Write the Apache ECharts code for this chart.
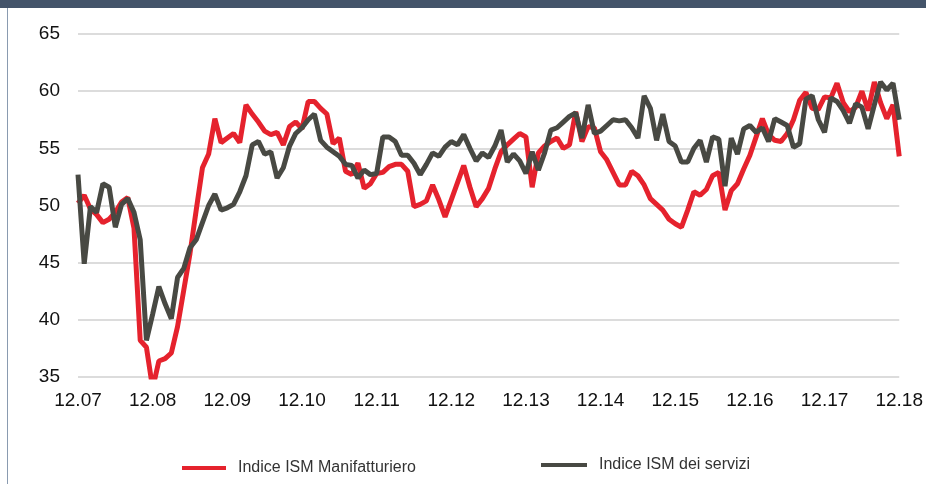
<!DOCTYPE html>
<html>
<head>
<meta charset="utf-8">
<script src="https://cdn.jsdelivr.net/npm/echarts@6/dist/echarts.min.js"></script>
<style>
  html, body { margin: 0; padding: 0; background: #fff; }
  #grafico { width: 926px; height: 484px; }
</style>
</head>
<body>
<div id="grafico"></div>
<script>
// mesi da 12.07 a 12.18 (etichette "MM.AA")
var mesi = [];
for (var k = 0; k <= 132; k++) {
	var m = (11 + k) % 12 + 1;
	var a = 2007 + Math.floor((11 + k) / 12);
	mesi.push((m < 10 ? '0' + m : '' + m) + '.' + String(a).slice(2));
}
var yTicks = [35, 40, 45, 50, 55, 60, 65];

// Indice ISM Manifatturiero
var manifatturiero = [
	50.2, 50.9, 49.7, 49.2, 48.5, 48.8, 49.4, 50.3, 50.7, 48.0, 38.2, 37.6, 34.0,
	36.4, 36.6, 37.1, 39.4, 42.6, 45.8, 49.6, 53.3, 54.5, 57.6, 55.5, 55.9,
	56.3, 55.5, 58.8, 58.0, 57.3, 56.5, 56.2, 56.4, 55.3, 56.9, 57.3, 56.7,
	59.1, 59.1, 58.5, 58.0, 55.4, 55.9, 53.0, 52.7, 53.7, 51.5, 51.9, 52.8,
	52.9, 53.4, 53.6, 53.6, 53.0, 49.9, 50.1, 50.4, 51.8, 50.5, 49.0, 50.5,
	52.0, 53.5, 51.6, 49.9, 50.6, 51.5, 53.2, 54.7, 55.3, 55.8, 56.3, 56.0,
	51.6, 54.6, 55.2, 55.6, 55.9, 55.0, 55.3, 58.2, 55.6, 56.9, 56.8, 54.7,
	54.0, 52.9, 51.8, 51.8, 53.0, 52.6, 51.8, 50.6, 50.1, 49.6, 48.8, 48.4,
	48.1, 49.6, 51.2, 50.9, 51.4, 52.6, 52.9, 49.6, 51.3, 51.9, 53.2, 54.4,
	56.0, 57.6, 56.2, 55.7, 55.6, 56.3, 57.5, 59.2, 59.9, 58.5, 58.4, 59.5,
	59.4, 60.7, 59.0, 58.2, 58.6, 60.0, 58.3, 60.8, 59.0, 57.6, 58.8, 54.3
];
// Indice ISM dei servizi
var servizi = [
	52.7, 44.9, 49.9, 49.4, 51.9, 51.6, 48.1, 50.1, 50.6, 49.4, 47.0, 38.2, 40.5,
	42.9, 41.4, 40.1, 43.7, 44.5, 46.3, 47.0, 48.5, 50.0, 51.0, 49.6, 49.8,
	50.1, 51.2, 52.6, 55.3, 55.6, 54.5, 54.7, 52.4, 53.3, 55.2, 56.3, 56.8,
	57.5, 58.0, 55.7, 55.1, 54.7, 54.3, 53.6, 53.5, 52.4, 53.1, 52.7, 52.8,
	56.0, 56.0, 55.6, 54.4, 54.4, 53.7, 52.7, 53.6, 54.6, 54.3, 55.1, 55.6,
	55.3, 56.2, 55.0, 53.9, 54.6, 54.2, 55.2, 56.6, 53.8, 54.5, 53.9, 52.8,
	54.7, 53.1, 54.6, 56.6, 56.8, 57.3, 57.8, 58.1, 55.9, 58.8, 56.3, 56.5,
	57.0, 57.5, 57.4, 57.5, 56.8, 55.9, 59.6, 58.5, 55.7, 58.0, 55.6, 55.2,
	53.8, 53.8, 55.0, 55.7, 53.8, 56.0, 55.8, 51.7, 55.9, 54.5, 56.7, 57.0,
	56.4, 56.8, 55.6, 57.6, 57.3, 57.0, 55.1, 55.4, 59.3, 59.6, 57.5, 56.4,
	59.4, 59.1, 58.3, 57.2, 58.9, 58.6, 56.7, 58.8, 60.8, 60.1, 60.7, 57.5
];

var rosso = '#e5222d';
var grigio = '#484943';
var font = "'Liberation Sans', Arial, sans-serif";

var myChart = echarts.init(document.getElementById('grafico'));
var option = {
	backgroundColor: '#fff',
	animation: false,
	textStyle: { fontFamily: font },
	graphic: [
		{ type: 'rect', left: 0, top: 0, shape: { width: 926, height: 8 }, style: { fill: '#44546a' } },
		{ type: 'line', shape: { x1: 7.5, y1: 8, x2: 7.5, y2: 484 }, style: { stroke: '#8a9bb0', lineWidth: 1 } }
	],
	grid: {
		left: 78,
		right: 23,
		top: 34,
		bottom: 107
	},
	legend: [
		{
			data: ['Indice ISM Manifatturiero'],
			left: 177, top: 455,
			icon: 'rect', itemWidth: 44, itemHeight: 4,
			textStyle: { fontSize: 16, color: '#333', padding: [0, 0, 0, 7], fontFamily: font }
		},
		{
			data: ['Indice ISM dei servizi'],
			left: 536, top: 452,
			icon: 'rect', itemWidth: 46, itemHeight: 4,
			textStyle: { fontSize: 16, color: '#333', padding: [0, 0, 0, 7], fontFamily: font }
		}
	],
	xAxis: {
		type: 'category',
		boundaryGap: false,
		data: mesi,
		axisLine: { show: false },
		axisTick: { show: false },
		axisLabel: {
			interval: 11,
			showMinLabel: true,
			showMaxLabel: true,
			margin: 14,
			fontSize: 19,
			color: '#111',
			fontFamily: font
		},
		splitLine: { show: false }
	},
	yAxis: {
		type: 'value',
		min: yTicks[0],
		max: yTicks[yTicks.length - 1],
		interval: 5,
		axisLine: { show: false },
		axisTick: { show: false },
		axisLabel: { margin: 18, fontSize: 19, color: '#111', fontFamily: font },
		splitLine: { lineStyle: { color: '#dcdcdc', width: 2 } }
	},
	series: [
		{
			name: 'Indice ISM Manifatturiero',
			type: 'line',
			data: manifatturiero,
			showSymbol: false,
			color: rosso,
			lineStyle: { color: rosso, width: 5 }
		},
		{
			name: 'Indice ISM dei servizi',
			type: 'line',
			data: servizi,
			showSymbol: false,
			color: grigio,
			lineStyle: { color: grigio, width: 5 }
		}
	]
};
myChart.setOption(option);
</script>
</body>
</html>
